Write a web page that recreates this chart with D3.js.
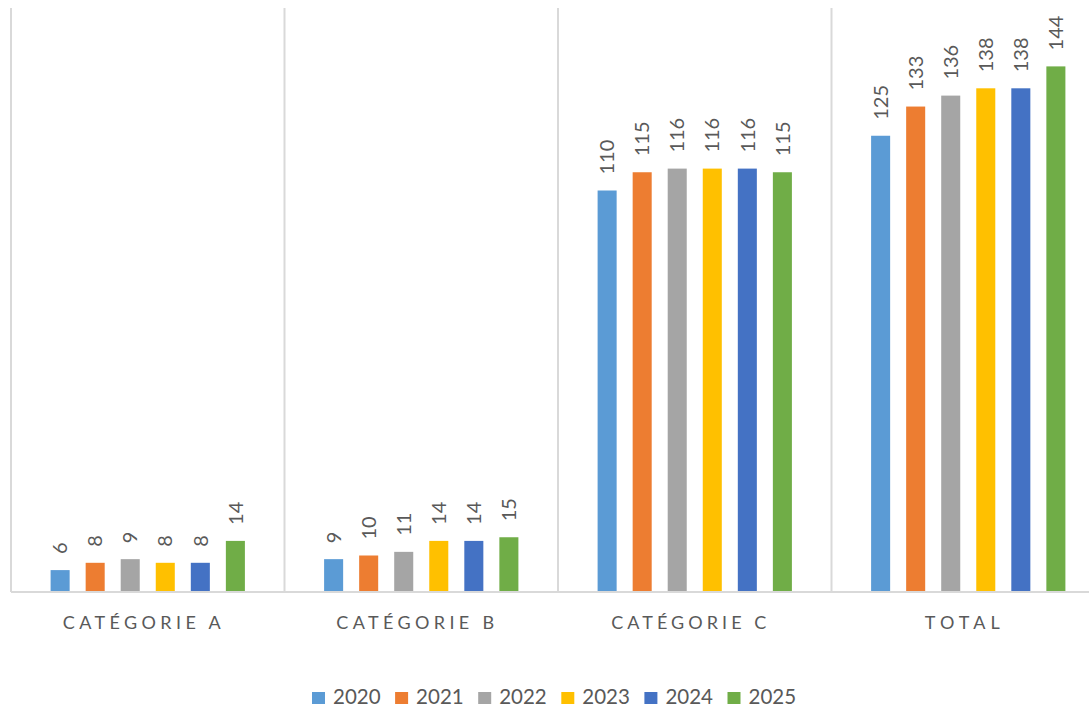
<!DOCTYPE html>
<html>
<head>
<meta charset="utf-8">
<script src="https://cdn.jsdelivr.net/npm/d3@7"></script>
<style>
  body { margin: 0; background: #fff; }
  svg text { font-family: Lato, "Liberation Sans", sans-serif; fill: #595959; }
</style>
</head>
<body>
<svg id="chart" width="1089" height="709"></svg>
<script>
const categories = ['Catégorie A', 'Catégorie B', 'Catégorie C', 'Total'];
const years = ['2020', '2021', '2022', '2023', '2024', '2025'];
const values2020 = [6, 9, 110, 125];
const values2021 = [8, 10, 115, 133];
const values2022 = [9, 11, 116, 136];
const values2023 = [8, 14, 116, 138];
const values2024 = [8, 14, 116, 138];
const values2025 = [14, 15, 115, 144];
const colors = ['#5B9BD5', '#ED7D31', '#A5A5A5', '#FFC000', '#4472C4', '#70AD47'];

const series = [values2020, values2021, values2022, values2023, values2024, values2025];

const plot = { left: 11, right: 1105, top: 8, bottom: 592 };

const svg = d3.select('#chart');

const x0 = d3.scaleBand()
    .domain(categories)
    .range([plot.left, plot.right])
    .padding(0);

const x1 = d3.scaleBand()
    .domain(years)
    .range([0, x0.bandwidth()])
    .paddingInner(0.457)
    .paddingOuter(1.13);

const y = d3.scaleLinear()
    .domain([0, 160])
    .range([plot.bottom, plot.top]);

// vertical separators between categories
const seps = categories.map(c => x0(c)).concat([plot.right]);
svg.append('g').selectAll('line').data(seps).enter().append('line')
    .attr('x1', d => d).attr('x2', d => d)
    .attr('y1', plot.top).attr('y2', plot.bottom)
    .attr('stroke', '#d9d9d9')
    .attr('stroke-width', 2);

// bars + value labels
const groups = svg.append('g').selectAll('g').data(categories).enter().append('g')
    .attr('transform', c => `translate(${x0(c)},0)`);

groups.each(function (c, ci) {
    const g = d3.select(this);
    const rows = years.map((yr, si) => ({ yr, v: series[si][ci], color: colors[si] }));
    g.selectAll('rect').data(rows).enter().append('rect')
        .attr('x', d => x1(d.yr))
        .attr('y', d => y(d.v))
        .attr('width', x1.bandwidth())
        .attr('height', d => y(0) - y(d.v))
        .attr('fill', d => d.color);
    g.selectAll('text.val').data(rows).enter().append('text')
        .attr('class', 'val')
        .attr('transform', d => `translate(${x1(d.yr) + x1.bandwidth() / 2},${y(d.v) - 16}) rotate(-90)`)
        .attr('dy', '0.36em')
        .attr('font-size', 20)
        .attr('text-anchor', 'start')
        .text(d => d.v);
});

// baseline
svg.append('line')
    .attr('x1', plot.left).attr('x2', 1089)
    .attr('y1', plot.bottom).attr('y2', plot.bottom)
    .attr('stroke', '#d9d9d9')
    .attr('stroke-width', 2);

// category labels, spaced out to the reference width
const labelWidth = { 'Catégorie A': 158, 'Catégorie B': 158, 'Catégorie C': 155, 'Total': 75 };
svg.append('g').selectAll('text').data(categories).enter().append('text')
    .attr('y', 629)
    .attr('font-size', 18)
    .text(c => c.toUpperCase())
    .each(function (c) {
        const t = d3.select(this);
        const n = t.text().length;
        const w = this.getComputedTextLength();
        const ls = (labelWidth[c] - w) / (n - 1);
        t.attr('letter-spacing', ls + 'px')
            .attr('x', x0(c) + x0.bandwidth() / 2 - 6 - labelWidth[c] / 2);
    });

// legend
const legend = svg.append('g').attr('transform', 'translate(312,698)');
const item = legend.selectAll('g').data(years).enter().append('g')
    .attr('transform', (d, i) => `translate(${i * 83.1},0)`);
item.append('rect')
    .attr('x', 0).attr('y', -6)
    .attr('width', 13).attr('height', 12)
    .attr('fill', (d, i) => colors[i]);
item.append('text')
    .attr('x', 21).attr('y', 6)
    .attr('font-size', 20.5)
    .text(d => d);
</script>
</body>
</html>
